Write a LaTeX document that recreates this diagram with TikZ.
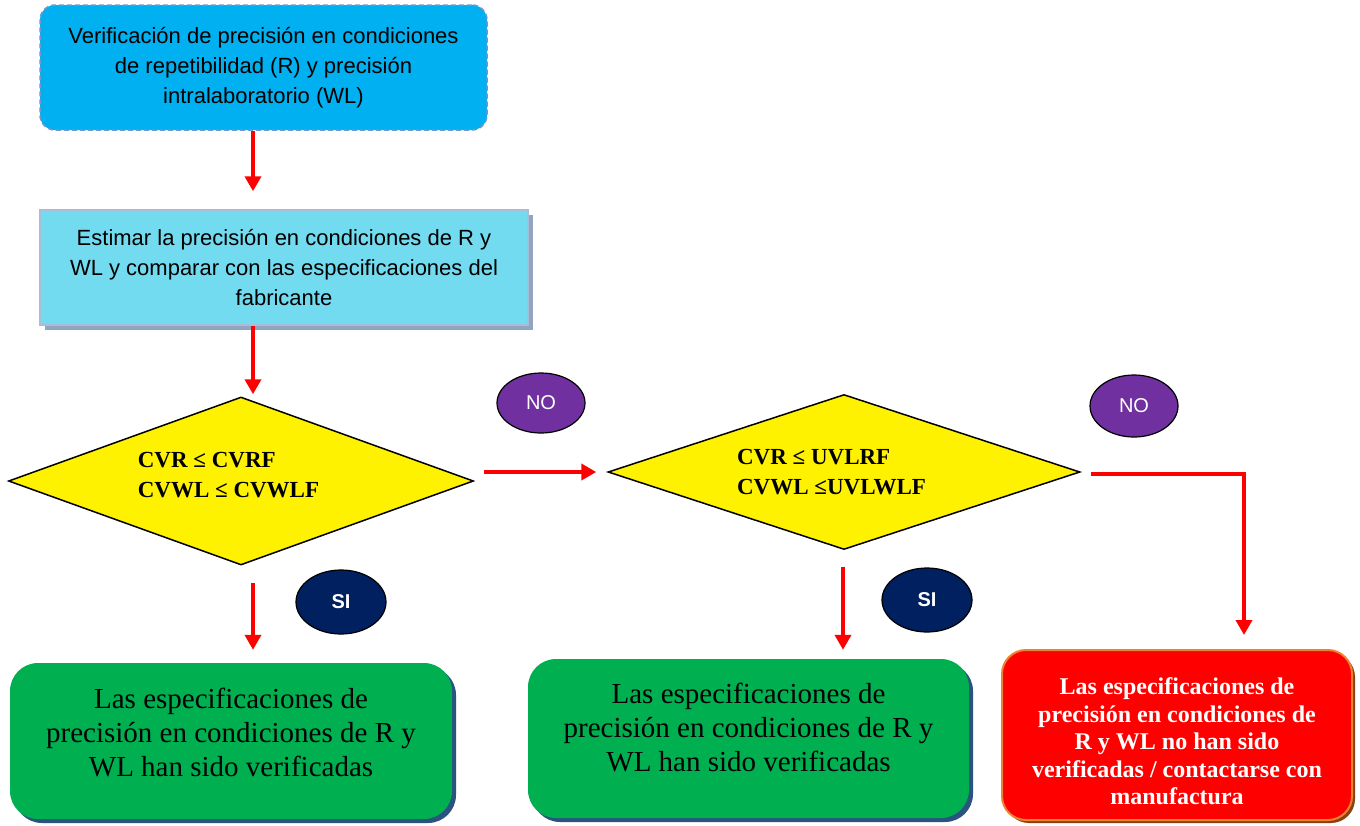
\documentclass[tikz,border=0pt]{standalone}
\usepackage{fontspec}
\setmainfont{Liberation Serif}
\newfontfamily\arialfont{Liberation Sans}
\usetikzlibrary{shapes.geometric,arrows.meta,shadows}
\definecolor{cajaazul}{HTML}{00B0F0}
\definecolor{bordeazul}{HTML}{7394CC}
\definecolor{celeste}{HTML}{72DBF0}
\definecolor{bordeceleste}{HTML}{A9BCD8}
\definecolor{sombragris}{HTML}{8FA5C2}
\definecolor{verde}{HTML}{00B050}
\definecolor{sombraverde}{HTML}{2B5380}
\definecolor{naranja}{HTML}{EE8233}
\definecolor{sombraroja}{HTML}{8A4010}
\definecolor{morado}{HTML}{7030A0}
\definecolor{marino}{HTML}{002060}
\begin{document}
\begin{tikzpicture}[x=1pt,y=-1pt,
    flecha/.style={red,line width=3.8pt,-{Triangle[width=16pt,length=15pt]}},
    decision/.style={diamond,draw=black,line width=1.5pt,fill=yellow,inner sep=0pt,aspect=2.9,align=left,
      font=\fontsize{23}{30}\selectfont\bfseries},
    resultado/.style={rounded corners=28pt,fill=verde,align=center,
      drop shadow={shadow xshift=4pt,shadow yshift=-4pt,fill=sombraverde,opacity=1},
      font=\fontsize{29}{34}\selectfont},
    etiqueta/.style={ellipse,draw=black,line width=1.2pt,text=white,inner sep=0pt}]
    \useasboundingbox (0,0) rectangle (1360,825);
    % cajas de arriba
    \node[draw=bordeazul,dashed,dash pattern=on 5pt off 3pt,line width=1.5pt,fill=cajaazul,rounded corners=15pt,
      minimum width=447pt,minimum height=125pt,align=center,font=\arialfont\fontsize{22}{30}\selectfont]
      (inicio) at (263.5,67.5) {Verificación de precisión en condiciones\\de repetibilidad (R) y precisión\\intralaboratorio (WL)};
    \node[draw=bordeceleste,line width=1.5pt,fill=celeste,minimum width=488pt,minimum height=115pt,align=center,
      drop shadow={shadow xshift=5pt,shadow yshift=-5pt,fill=sombragris,opacity=1},
      font=\arialfont\fontsize{22}{30}\selectfont]
      (estimar) at (284,267.5) {Estimar la precisión en condiciones de R y\\WL y comparar con las especificaciones del\\fabricante};
    % decisiones
    \node[decision,minimum width=465pt,minimum height=168pt] (dec1) at (241,481)
      {\hspace*{-25pt}CVR ≤ CVRF\\\hspace*{-25pt}CVWL ≤ CVWLF\\[-18pt]};
    \node[decision,minimum width=472pt,minimum height=155pt] (dec2) at (844,472)
      {\hspace*{-25pt}CVR ≤ UVLRF\\\hspace*{-25pt}CVWL ≤UVLWLF};
    \node[etiqueta,fill=morado,minimum width=88pt,minimum height=60pt,font=\arialfont\fontsize{20}{24}\selectfont]
      (no1) at (541,403) {NO};
    \node[etiqueta,fill=morado,minimum width=88pt,minimum height=62pt,font=\arialfont\fontsize{20}{24}\selectfont]
      (no2) at (1134,406) {NO};
    \node[etiqueta,fill=marino,minimum width=90pt,minimum height=64pt,font=\arialfont\bfseries\fontsize{20}{24}\selectfont]
      (si1) at (341,602) {SI};
    \node[etiqueta,fill=marino,minimum width=90pt,minimum height=64pt,font=\arialfont\bfseries\fontsize{20}{24}\selectfont]
      (si2) at (927,600) {SI};
    % resultados
    \node[resultado,minimum width=442pt,minimum height=156pt] (ok1) at (231,741)
      {Las especificaciones de\\precisión en condiciones de R y\\WL han sido verificadas\\[-16pt]};
    \node[resultado,minimum width=441pt,minimum height=159pt] (ok2) at (748.5,738.5)
      {Las especificaciones de\\precisión en condiciones de R y\\WL han sido verificadas\\[-11pt]};
    \node[draw=naranja,line width=2pt,fill=red,rounded corners=24pt,minimum width=350pt,minimum height=170pt,
      align=center,text=white,drop shadow={shadow xshift=3pt,shadow yshift=-3pt,fill=sombraroja,opacity=1},
      font=\fontsize{24}{27.5}\selectfont\bfseries]
      (falla) at (1177,735) {\rule{0pt}{30pt}Las especificaciones de\\precisión en condiciones de\\R y WL no han sido\\verificadas / contactarse con\\manufactura};
    % flechas
    \draw[flecha] ([xshift=-10.5pt]inicio.south) -- ([xshift=-31pt,yshift=18pt]estimar.north);
    \draw[flecha] ([xshift=-31pt]estimar.south) -- ([xshift=12pt,yshift=2pt]dec1.north);
    \draw[flecha] ([xshift=10pt,yshift=9pt]dec1.east) -- ([xshift=-11pt]dec2.west);
    \draw[flecha] ([xshift=10pt,yshift=-2pt]dec2.east) -| ([xshift=67pt,yshift=14pt]falla.north);
    \draw[flecha] ([xshift=12pt,yshift=-17pt]dec1.south) -- ([xshift=22pt,yshift=13pt]ok1.north);
    \draw[flecha] ([xshift=-1pt,yshift=-17pt]dec2.south) -- ([xshift=94.5pt,yshift=9pt]ok2.north);
\end{tikzpicture}
\end{document}
